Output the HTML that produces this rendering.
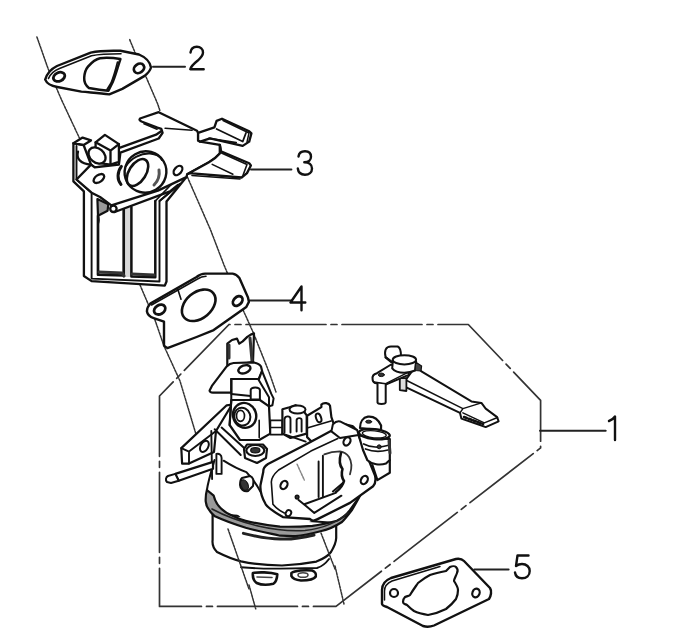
<!DOCTYPE html>
<html><head><meta charset="utf-8">
<style>
html,body{margin:0;padding:0;background:#fff;width:700px;height:643px;overflow:hidden}
svg{display:block}
</style></head><body>
<svg width="700" height="643" viewBox="0 0 700 643">
<g fill="none" stroke="#111" stroke-linejoin="round" stroke-linecap="round">
<!-- dashed center lines -->
<g stroke-width="1.5" stroke-dasharray="2.2 1.2" stroke="#333">
<polyline id="lineA" points="36.9,36.9 48,68.4 61.6,100 79.4,138"/>
<polyline points="140,285 155,320 164,346 180,381 197.6,439.6"/>
<polyline points="249,585 255.7,608.8"/>
<polyline id="lineB" points="129.7,39.6 136.2,55.4 146.4,77.7 157.6,103.7 160,110.9"/>
<polyline points="187.4,177 210.6,230 224,265 232.6,285.6"/>
<polyline points="242.9,309.6 253,332 269,372 276,392"/>
<polyline points="335,566 344,604"/>
</g>
<!-- bracket 1 -->
<g stroke-width="1.7" stroke-dasharray="80 5 6 5" stroke-dashoffset="79" stroke="#333">
<polyline points="229,324.5 468.3,324.5 540.6,400.3 540.6,447.9 336,606.4 159.5,606.4 159.5,396 229,324.5"/>
</g>
<!-- leaders -->
<g stroke-width="2" stroke="#222">
<line x1="153" y1="66.7" x2="185" y2="66.7"/>
<line x1="251" y1="169.6" x2="291.4" y2="169.6"/>
<line x1="249.7" y1="300.6" x2="291.4" y2="300.6"/>
<line x1="540" y1="430.7" x2="605.7" y2="430.7"/>
<line x1="474.3" y1="569.4" x2="508.6" y2="569.4"/>
</g>

<!-- part 3 -->
<g id="p3" stroke-width="2.32" fill="#fff">
<!-- frame fill + outer -->
<path d="M73.4,143.2 L73.4,181.3 L83.9,191.4 L83.9,276 L91.6,281.1 L164.8,285.6 L166.5,281.5 L166.5,201.5 L186.4,177.1 L160,178 L120,165 L94.7,167.4 L91,164.6 L83.6,145 Z"/>
<path d="M76.5,146 L76.5,179.5 L91.6,192.7 L91.6,278.6 L159.5,281.5 L159.5,201 L180,183.7" fill="none" stroke-width="1.9"/>
<!-- divider shaded -->
<rect x="123.7" y="208" width="7.1" height="69" fill="#d8d8d8" stroke="none"/>
<!-- windows -->
<path d="M98,216 L98,274.7 L123.7,275.5 L123.7,209.4" fill="none" stroke-width="2.68"/>
<path d="M131.4,206.9 L131.4,276.6 L155.3,277.2 L155.3,201" fill="none" stroke-width="2.5"/>
<path d="M99,272 L122,273 L124,276" fill="none" stroke-width="3.17" stroke="#333"/>
<path d="M132,274 L154,275" fill="none" stroke-width="3.17" stroke="#333"/>
<!-- diagonal rods -->
<path d="M112.1,204.3 L163.5,185 L172,181 M114.7,212 L170,191.4 L178,185" fill="none"/>
<circle cx="113.4" cy="208.8" r="3.2" fill="#fff"/>
<path d="M155.3,201 L174.6,181 M159.5,201 L180.1,184" fill="none" stroke-width="1.8"/>
<!-- gusset -->
<path d="M97.4,199.1 L108.3,204.3 L107.6,210.7 L98,215.8 Z" fill="#999" stroke-width="2.2"/>
<path d="M98,215.8 C99,218 99.3,220 98,224" fill="none" stroke-width="1.95"/>
<!-- upper plate -->
<path d="M91,164.6 L94.7,167.4 L118.9,164.6 L120.4,152.7 L158.7,138.5 L162.6,132.8 L161.3,128.9 L157.4,127.6 L141.5,121.5 C139.5,120.5 139,119.5 140,118.5 L158.7,112.2 L197,130.7 L198.1,132.9 L198.1,140.5 L200.2,141.6 L219.8,144.8 L220.9,151.4 L219.8,153.5 C216,158 213,160 209,162.2 L187.2,174.2 L186.4,177.1 L157.9,190.6 L111.4,205.4 L100,197 L91.6,192.7 L76.5,179.5 Z"/>
<path d="M144,123.8 L157,129.2 M165.1,128.3 L192.1,130.2" fill="none" stroke-width="1.6"/>
<path d="M120.1,147.6 L156.1,134.7 L161.5,131" fill="none"/>
<!-- grip tab upper -->
<path d="M198.1,132.9 L214.4,127.4 L216.6,120.9 L222,118.7 L249.2,131.2 L251.4,133.4 L249.2,141.6 L242.7,145.9 L238.3,144.8 L210,138.3 L200.2,141.6 L198.1,140.5 Z"/>
<path d="M216.6,129 L242.7,141.6 L246,132.9 M209,138.3 L236.2,142.7" fill="none" stroke-width="1.71"/>
<path d="M223,120.5 L249,133 L247,142" fill="none" stroke-width="1.46"/>
<!-- grip tab lower -->
<path d="M219.8,144.8 L220.9,151.4 L249.2,163.3 L250.9,165.5 L247,173.1 L241.6,177.5 L189.4,173.1 L187.2,174.2 L209,162.2 C213,160 216,158 219.8,153.5 Z"/>
<path d="M212.2,164.4 L232.9,174.2 M221.5,153 L247,164.5 L243,175.3 M192,175.5 L240,179" fill="none" stroke-width="1.59"/>
<!-- big ring -->
<ellipse cx="145.5" cy="172" rx="21" ry="20.5" transform="rotate(-30 145.5 172)" stroke-width="2.4"/>
<path d="M126,166 C131,158 141,153 150,153.5 C156,154 160,156 162,160" fill="none" stroke-width="2"/>
<ellipse cx="137.5" cy="172.5" rx="15" ry="8.5" transform="rotate(-58 137.5 172.5)" stroke-width="2.6"/>
<path d="M121.4,166.4 C117,172 117,180 121,184.4" fill="none" stroke-width="3"/>
<path d="M159,170 C160,176 158,181 154,185" fill="none" stroke-width="3" stroke="#555"/>
<ellipse cx="98.9" cy="178.5" rx="6" ry="3.5" transform="rotate(-35 98.9 178.5)"/>
<ellipse cx="178" cy="170.5" rx="5.3" ry="3.5" transform="rotate(-50 178 170.5)"/>
<!-- post top -->
<path d="M73.4,143.2 L82.6,137.6 L91,140.4 L83.6,145 Z"/>
<path d="M78,151.6 C76,158 80,164 91,164.6" fill="none"/>
<!-- square block -->
<path d="M95.6,142.3 L104.9,134.9 L118.9,144.1 L118.9,161.8 L110.5,164.6 L95.6,162.7 Z"/>
<path d="M95.6,142.3 L110.5,150.6 L118.9,144.1 M110.5,150.6 L110.5,164.6" fill="none"/>
<ellipse cx="97" cy="155.5" rx="9.5" ry="7" transform="rotate(40 97 155.5)"/>
</g>
<!-- gasket 4 -->
<g id="g4" stroke-width="2.4" fill="#fff">
<path d="M146.9,311.3 C147,307 149,305 150.3,303.6 L196.6,277 C199,275 202,273.6 205.1,273.6 L232.6,273.6 C235,274 237.5,275.5 239.4,277.9 L248,297.6 L248.9,301.9 L246.3,307 L213.7,330.1 L196.6,337 L167.4,348.1 L164,345.6 L164,321.6 L153.7,318.1 C150,317 147.5,315 146.9,311.3 Z"/>
<path d="M151.5,305 L197.5,279 C200,277.5 203,276.5 206,276.3" fill="none" stroke-width="1.6"/>
<ellipse cx="159.7" cy="309.6" rx="6" ry="4.5" transform="rotate(-30 159.7 309.6)" stroke-width="2.8"/>
<ellipse cx="237.7" cy="301" rx="5.5" ry="4" transform="rotate(-45 237.7 301)" stroke-width="2.8"/>
<ellipse cx="198.7" cy="305.3" rx="19" ry="13" transform="rotate(-40 198.7 305.3)" stroke-width="2.6"/>
<path d="M177.7,289 L181,299.3" fill="none" stroke-width="1.6"/>
</g>

<!-- carb -->
<g id="carb" stroke-width="2.2" fill="#fff">
<!-- float bowl -->
<path d="M212.6,514 L212.6,540 C212,545 214,549 217,552 C225,556 232,559 241,561.4 C255,564.5 268,565.5 282,565.5 C296,565 306,563.5 316.4,561.6 C323,559 328,556 331,552 C334,547 336,543 336.2,538 L336.2,523 Z"/>
<path d="M241,567.2 C255,568.5 268,568.8 280,568.6 L317,568 C322,566.5 326,563 329,559" fill="none" stroke-width="1.9"/>
<!-- screws -->
<path d="M252.9,573 C258,572 270,572 277.3,574.3 C277,579 276,582 273.4,583.8 C268,585 261,585 256.7,583 C254,581 252.5,577 252.9,573 Z" stroke-width="2.6"/>
<path d="M257,577 L272,577.5" fill="none" stroke-width="1.6" stroke="#444"/>
<path d="M291.4,573 C295,570.5 305,569.8 312,570.5 C315,571.5 316.5,574 315.8,576.5 C314,579.5 308,580.5 301,580.5 C296,580 292.5,578.5 291.4,576 Z" stroke-width="2.6"/>
<ellipse cx="303" cy="575" rx="5" ry="2.3" fill="none" stroke-width="1.6" stroke="#444"/>
<!-- main body silhouette -->
<path d="M214.5,458 L207,490 L213.7,495.7 L245.7,520.9 L300,525 L345,510 L350,450 L330,430 L300,405 L262,398 L232,392 Z" stroke="none"/>
<path d="M214.5,460 C211,472 208,482 206.9,490" fill="none" stroke-width="2"/>
<!-- bowl rim -->
<path d="M213.7,495.7 C216,504.9 222.9,511.7 232,515.5 C236,517.5 240,519.5 245.7,520.9 C258,523.8 270,525.8 280,526.6 C292,527 303,526.5 312.4,525.8 C322,524.5 330,522.5 336.8,520.7 C343,517.8 347,514 349.7,510.4 L360,496 L352,510 C348,515 345,519 342,522 C335,526.5 328,529.5 321.4,531 C312,533.5 304,535.5 295.7,536.1 C290,536.3 285,536 280,535.7 C268,533 256,530.5 245.7,527.7 C235,524.5 224,520.5 214.9,516.3 C210,512 206,507 205.7,501.4 C205.5,496 206,493 206.9,490 Z" fill="#9a9a9a" stroke-width="2.2"/>
<path d="M212,509 C225,516 240,521.5 258,526 C275,530 290,531.5 305,530.5 C320,529 335,524 348,513" fill="none" stroke-width="1.6" stroke="#222"/>
<path d="M243.4,533.4 C258,537 270,539 280,539 C290,539.5 300,538.5 314,535" fill="none" stroke-width="3" stroke="#222"/>
<!-- body curve from nut to flange -->
<path d="M223.6,460.7 C232,466 240,470 246.4,472.1 C252,478 257,485 260.7,492.1 L267.9,505" fill="none" stroke-width="2"/>
<!-- screw on body -->
<path d="M242,478 L250,476 C253,477 254,481 253,486 L248,491 C244,492 240,489 240,485 C240,482 240.5,479.5 242,478 Z" stroke-width="2"/>
<ellipse cx="244.5" cy="485" rx="3.5" ry="5.5" transform="rotate(-25 244.5 485)" fill="#333" stroke-width="1.2"/>
<!-- left bracket plate -->
<path d="M181.3,448.1 L226.7,405.3 L232,404.5 L216,431 L214,452 L189,463.6 L182.1,463.6 Z"/>
<path d="M181.3,448.1 L189,451.6 L216,431 M189,451.6 L189,463.6" fill="none" stroke-width="1.9"/>
<ellipse cx="204.4" cy="446.4" rx="3.8" ry="6" transform="rotate(30 204.4 446.4)" stroke-width="2"/>
<path d="M211.3,431 L212.1,479" fill="none" stroke-width="1.9"/>
<path d="M214.7,429.3 L240.7,455 M221.6,427.6 L246.4,450" fill="none" stroke-width="2"/>
<!-- fuel inlet -->
<path d="M175.3,473.9 L213,461.9 L213,468.7 L178.7,480.7 Z"/>
<path d="M168,476 C166,477 165,480 167,482 L171,483 L178.7,480.7 L175.3,473.9 Z" stroke-width="2"/>
<path d="M216.4,454 C219,453 221.6,455 221.6,458 L221.6,473.9 L216.4,473.9 Z" stroke-width="1.9"/>
<!-- spool housing -->
<path d="M231.3,400 L250.7,400 L259.9,400 L269,406.4 L270.3,433.6 L259.2,440 L240,440 L229.6,425 Z"/>
<path d="M259.2,420.4 L259.2,437.6" fill="none" stroke-width="1.6"/>
<!-- choke lever -->
<path d="M227.3,366 L227.3,343.7 L232,340 L237,338.6 L239.3,343.7 L242.7,341.4 L247.3,336.9 L250.7,334.6 L254,333.4 L253,362 Z"/>
<path d="M229,358 L229,345 M250,338 L252,361" fill="none" stroke-width="3" stroke="#333"/>
<path d="M226.7,366.4 C229,364 231,363.2 233.6,363 L253,362.4 C257,363 260,364.5 261,366.4 L262.1,371 L258.7,379 L231.3,379 L231.3,392.7 L213,392.7 C210.5,392.5 209.5,391.5 209.6,390.4 L211.9,385.9 Z"/>
<path d="M231.3,379 L258.7,379" fill="none" stroke-width="2"/>
<ellipse cx="244.4" cy="369.3" rx="6.3" ry="3.8" transform="rotate(-20 244.4 369.3)" stroke-width="2.4"/>
<path d="M231.3,379 L231.3,400.7 L229.6,425" fill="none" stroke-width="2"/>
<path d="M231.3,393.9 L250.7,396.1" fill="none" stroke-width="2"/>
<path d="M262,371 L271.3,393.9 L273.6,398.4 L272.4,405.3 L269,406.4 L269,397.3 L258.7,380.1 Z" stroke-width="2"/>
<path d="M250.7,399.6 L250.7,390 C251,386.5 259.5,386.5 259.9,390 L259.9,399.6 Z" stroke-width="2"/>
<!-- spool -->
<ellipse cx="244.6" cy="415.4" rx="11.5" ry="12.6" transform="rotate(-20 244.6 415.4)" stroke-width="2.4"/>
<ellipse cx="242.3" cy="416.6" rx="8" ry="9" transform="rotate(-20 242.3 416.6)" stroke-width="2"/>
<ellipse cx="240.5" cy="415.8" rx="4" ry="5.5" stroke-width="1.7"/>
<!-- block between spool and middle blocks -->
<path d="M270.3,420.4 L282.4,420.4 L282.4,434.6 L270.3,434.6 Z" stroke-width="1.9"/>
<path d="M270.3,427.5 L282.4,427.5" fill="none" stroke-width="1.6"/>
<!-- nut hex -->
<path d="M244,449 L247,444.5 L263,444.5 L267,449 L266,458 L257,463 L245,458 Z" stroke-width="2.2"/>
<ellipse cx="255.3" cy="450.5" rx="9" ry="5.5" stroke-width="2.2"/>
<ellipse cx="255.3" cy="450.3" rx="4.6" ry="2.6" fill="#333" stroke-width="1.2"/>
<!-- middle blocks -->
<path d="M282.4,409.3 L289.5,407.3 L295.6,405.2 L301.6,408.3 L306.7,415.3 L306.7,433.6 L290.5,438 L282.4,433.6 Z"/>
<ellipse cx="297.5" cy="409.5" rx="8" ry="4" stroke-width="2"/>
<path d="M284.5,432.5 L284.5,419 C285,415.5 290.5,415.5 290.5,419 L290.5,432.5 M296.6,431.5 L296.6,420 C297,417.5 301.6,417.5 301.6,420 L301.6,431.5" fill="none" stroke-width="1.9"/>
<path d="M282.4,433.6 L305.7,441.6" fill="none" stroke-width="1.9"/>
<path d="M307.1,415.7 L321.4,407.1 L321.4,404.5 C324,402 329,403 330,405.7 L331.4,417.1 L334.3,425.7 L331.4,432.9 L311.4,441.4 L307.1,437.1 Z"/>
<ellipse cx="318.6" cy="417.9" rx="2.5" ry="4.5" transform="rotate(-20 318.6 417.9)" stroke-width="2"/>
<path d="M307.1,428 L331,421" fill="none" stroke-width="1.8"/>
<!-- flange -->
<path d="M263.3,471.8 C263,468 265,466 268,464 L306.8,444 L333.7,429.5 C338,427 342,425 346.1,424.5 L352.3,426 C355,428 357,431 358.6,435 L375.1,475.9 C376,480 375,484 373.1,486.3 L350,502.9 L317.1,519.4 C314,521 312,521.5 310,519 L282.9,517.1 C276,513 268,508 265.7,504.3 C261,496 260,490 260.5,485 Z" stroke-width="2.3"/>
<path d="M337.8,438.6 L310.9,451.1 L278.6,470 C273,475 271,480 271.4,483 L272.9,504.3 C276,508 280,511 284.3,512.9" fill="none" stroke-width="1.6"/>
<path d="M332.9,424.3 C335,422 338,421 340,421.4 L357.1,430 L358.6,435 L340,438 L331.4,431.4 Z" stroke-width="2"/>
<ellipse cx="347" cy="441.4" rx="3.2" ry="4.4" transform="rotate(30 347 441.4)" stroke-width="2.2"/>
<ellipse cx="364.3" cy="480" rx="3.2" ry="4.4" transform="rotate(30 364.3 480)" stroke-width="2.2"/>
<ellipse cx="284" cy="485" rx="3.2" ry="4.4" transform="rotate(30 284 485)" stroke-width="2.2"/>
<ellipse cx="288.4" cy="513.2" rx="2.6" ry="3.2" transform="rotate(30 288.4 513.2)" stroke-width="2"/>
<!-- venturi -->
<path d="M322.9,455.7 L322.9,497 M318.6,461.4 L318.6,497" fill="none" stroke-width="1.9"/>
<path d="M324.3,454.3 C330,452 335,451.4 340,451.4 C344,452 347,454 349,457 C352,462 352,468 350,474.3" fill="none" stroke-width="1.8" stroke="#333"/>
<path d="M341,453 C339,460 340,466 342.5,469 C341,474 342,478 344,481 C343,485 340,489 336,492" fill="none" stroke-width="2.6"/>
<circle cx="297.1" cy="497.1" r="1.8" fill="#333" stroke-width="1.5"/>
<path d="M298.6,500 L305.7,505.7 L314.3,512.9 L341.4,495.7 M304.3,504.3 L335.7,492.9 M332.9,491.4 L342.9,482.9" fill="none" stroke-width="2"/>
<!-- right elbow fitting -->
<path d="M372.4,465.2 L377.4,480.1 L389.8,472.7 L389.8,460" stroke-width="2.2"/>
<path d="M358.7,435.4 L363,450 L367.4,460.2 C372,464.5 380,465.5 386,463.5 L389.8,460 L389.8,439.1 Z" stroke-width="2.2"/>
<path d="M360,428 C360,422 363,417.5 368,416.7 C373,416.2 378,419 381.1,425.4 L381,430 Z" stroke-width="2.2"/>
<ellipse cx="368.7" cy="421.7" rx="3" ry="1.5" fill="#333" stroke-width="1"/>
<ellipse cx="374.3" cy="434.1" rx="15.5" ry="5" transform="rotate(6 374.3 434.1)" stroke-width="2.4"/>
<ellipse cx="374.3" cy="434.3" rx="12" ry="3.5" transform="rotate(6 374.3 434.3)" fill="none" stroke-width="1.3"/>
<path d="M363.7,444 C370,447.5 380,448 388.6,445.3 M365.5,449 C372,451.5 380,452 388,450" fill="none" stroke-width="1.7"/>
<circle cx="379.2" cy="446.8" r="2" fill="#333" stroke-width="1"/>
<path d="M389,441 L390,453" fill="none" stroke-width="3" stroke="#333"/>
</g>
<!-- dashed lines over carb -->
<g stroke-width="1.5" stroke-dasharray="2.2 1.2" stroke="#333" fill="none">
<polyline points="228,529 249,589"/>
<polyline points="321,533 335,569"/>
<polyline points="297.1,464.3 304.3,480" stroke="#888"/>
</g>
<!-- gasket 2 -->
<g stroke-width="2.4" fill="#fff">
<path d="M45.2,79.6 C47,73 51,69 57,66 L90.7,52.6 C100,50.5 110,50.5 120.4,50.8 L139,54.5 C145,57 150,62 151,67.5 C150,71 147,74 144.6,75.9 L122.3,88.9 L109.3,94.4 C100,93 90,92.5 81.4,91.6 L57.3,87 C52,86 47,84 45.2,79.6 Z"/>
<path d="M48.5,78.5 C50.5,73.5 54.5,70.5 59.5,68.5 L91.5,55.8 C101,53.8 110,53.8 121,53.8" fill="none" stroke-width="1.6"/>
<path d="M120.4,59.1 C118,66 116,74 113,81.4 L108.4,90.7 C101,90 95,89 88.9,87.9 C85,85 84,81 84.2,77.7 C84.5,72 86,69 88,66.6 C92,62 96,59 100,58.2 C107,57.5 114,58 120.4,59.1 Z" stroke-width="2.5"/>
<path d="M117.5,62 C115.5,70 113.5,77 111,83 L107,89.5" fill="none" stroke-width="1.6"/>
<ellipse cx="59.1" cy="76.8" rx="6" ry="4.3" transform="rotate(-25 59.1 76.8)" stroke-width="2.8"/>
<ellipse cx="139" cy="68.4" rx="5.5" ry="4.3" transform="rotate(-35 139 68.4)" stroke-width="2.8"/>
</g>
<!-- gasket 5 -->
<g stroke-width="2.20">
<path d="M382,604 L382,590 C382,584 386,580 391,578 L456,559 C459,558.5 462,559 464,561 L490,588 C492,591 491,596 489,599 L434,625.5 C430,627 426,627 423,626 L387,607 C384,606 382,605 382,604 Z" stroke-width="2.4"/>
<path d="M384.5,600 L384.5,591 C384.5,586 387.5,583 392,581 L440,566.5" fill="none" stroke-width="1.5"/>
<path d="M410,595 C413,590 416,586 418,583 C423,579 426,577 430,575 C436,573 441,572 446,571 L450,567 C452,566 455,566 456,567 C458,569 458,571 457,573 C456,576 454,579 454,581 C456,584 458,587 458,590 C458,594 457,597 456,599 C453,603 450,606 446,609 C440,612 434,614 428,615 C422,614 418,613 414,611 C411,609 409,607 407,605 C405,604 403,604 403,602 C403,600 404,598 405,597 C407,596 409,596 410,595 Z"/>
<circle cx="394" cy="593" r="4"/>
<ellipse cx="476" cy="593" rx="3.6" ry="4.4" transform="rotate(20 476 593)"/>
</g>
<!-- throttle lever -->
<g stroke-width="2" fill="#fff">
<!-- long arm -->
<path d="M416,366 L421.4,371.4 L471.4,401.4 L481.4,402.9 L485.7,408.6 L497.1,417.1 L498.6,421.4 L485.7,427.1 L480,425 L461.4,418.6 L460,412.9 L405.7,387.1 L405.7,380 Z"/>
<path d="M405.7,380 L462.9,408.6 L460,412.9 M462.9,412.9 L484.3,422.9 L497.5,417.5 M481.4,402.9 L462.9,408.6" fill="none" stroke-width="1.5"/>
<path d="M464,417 L483,424" fill="none" stroke-width="2.6" stroke-dasharray="3 2"/>
<!-- post under cap -->
<path d="M399.8,378.1 L399.8,390.1 L406.4,391 L406.4,378.1 Z" fill="#ddd" stroke-width="1.8"/>
<!-- plate -->
<path d="M372.6,379.2 C372,376 374,374 377,373.2 L391.1,364.5 L408.6,371.6 L408.6,374.8 L385.7,384.6 L375,383 C373,382 372.6,381 372.6,379.2 Z"/>
<path d="M373.7,381.9 L385.7,383.6 L407.5,372.7" fill="none" stroke-width="1.4"/>
<ellipse cx="381.3" cy="374.8" rx="3" ry="1.8" fill="#333" stroke-width="1"/>
<!-- peg -->
<path d="M377.5,383.6 L377.5,402.5 C378,404.5 385,404.5 385.7,402.5 L385.7,384.6" />
<!-- nub -->
<path d="M385.7,357.4 C384,351 385.5,346.5 391,346.5 L397.7,346.5 C400,347.5 401,351 401,356 L392,362 Z"/>
<path d="M385.7,357.4 L391.1,361.8" fill="none" stroke-width="2.4"/>
<!-- cap -->
<path d="M392.8,361.8 L392.2,368.3 C395,372 400,372.7 404.2,372.7 C410,372.7 414,371 415.1,370.5 L416.2,361.8 Z"/>
<path d="M415.5,362 L421.6,366 L421,371 L415.1,370.5 Z" fill="#444" stroke-width="1.2"/>
<ellipse cx="404.4" cy="359.8" rx="11.7" ry="4.6"/>
</g>
<!-- labels -->
<g stroke-width="2.4" stroke="#111">
<path d="M190.5,52.5 C191,48.8 193.5,46.8 196.8,46.8 C200.5,46.8 203,49.3 203,52.6 C203,55.6 201,57.8 197.5,60.8 C193.5,64 191,66.5 190.3,69.2 L203.7,69.2"/>
<path d="M298.5,156.5 C299,152.8 301.5,151.3 305,151.3 C308.8,151.3 311,153.5 311,156.8 C311,160 308.5,162.3 304.3,162.3 C309,162.3 312,164.8 312,168.5 C312,172.5 309,174.7 305,174.7 C301,174.7 298.3,172.6 297.8,168.5"/>
<path d="M301.5,310.3 L301.5,286.5 L290.5,302.5 L305.3,302.5"/>
<path d="M609,421 C612,420 614,418 615,416.5 L615,440"/>
<path d="M528.5,555.5 L517.5,555.5 L516,566 C518,564.5 520,564 522,564 C526.5,564 529.7,567 529.7,571 C529.7,575.5 526.5,578.2 522,578.2 C518.3,578.2 515.5,576 515,572.5"/>
</g>
</g>
</svg>
</body></html>
